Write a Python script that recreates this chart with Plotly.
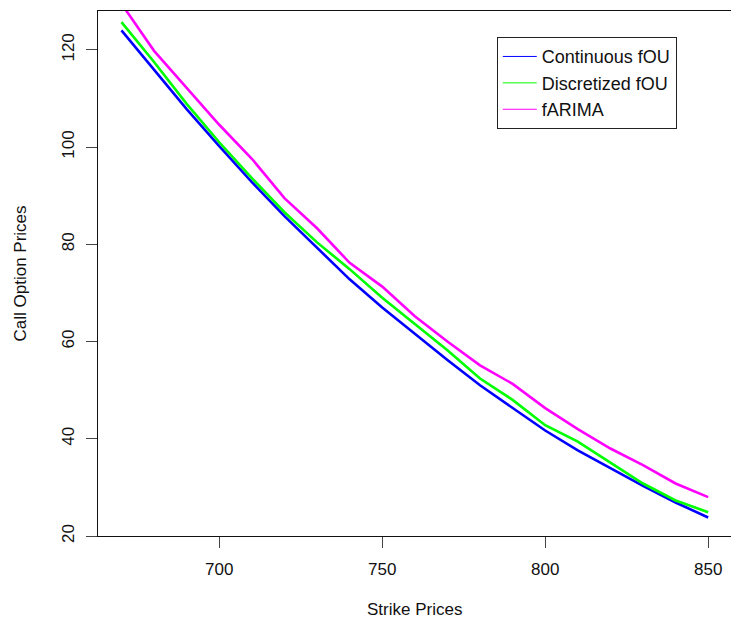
import plotly.graph_objects as go

strike = [670, 680, 690, 700, 710, 720, 730, 740, 750, 760,
          770, 780, 790, 800, 810, 820, 830, 840, 850]

continuous_fou = [124.0, 116.0, 107.8, 100.2, 92.8, 85.8, 79.2, 72.8, 67.0, 61.5,
                  56.2, 51.0, 46.3, 41.7, 37.6, 33.9, 30.3, 26.9, 23.8]
discretized_fou = [125.7, 117.5, 108.9, 101.0, 93.6, 86.6, 80.4, 74.9, 69.0, 63.6,
                   58.2, 52.4, 48.0, 42.8, 39.4, 35.1, 30.8, 27.3, 24.9]
farima = [129.5, 119.8, 112.2, 104.6, 97.6, 89.5, 83.3, 76.2, 71.3, 65.2,
          60.0, 55.1, 51.3, 46.3, 42.0, 38.0, 34.6, 30.8, 28.0]

series_names = ["Continuous fOU", "Discretized fOU", "fARIMA"]
series_colors = ["#0000FF", "#00FF00", "#FF00FF"]
x_ticks = [700, 750, 800, 850]
y_ticks = [20, 40, 60, 80, 100, 120]

FONT = "Liberation Sans, Arial, sans-serif"

fig = go.Figure()
for name, vals, col in zip(series_names, [continuous_fou, discretized_fou, farima], series_colors):
    fig.add_trace(go.Scatter(x=strike, y=vals, mode="lines", name=name,
                             line=dict(color=col, width=2.6), showlegend=False,
                             cliponaxis=True))
# thin legend samples, as in the original legend
for name, col in zip(series_names, series_colors):
    fig.add_trace(go.Scatter(x=[None], y=[None], mode="lines", name=name,
                             line=dict(color=col, width=1), showlegend=True))

fig.update_layout(
    width=731, height=624,
    margin=dict(l=98, r=0, t=11, b=88),
    paper_bgcolor="white", plot_bgcolor="white",
    font=dict(family=FONT, size=17, color="#111"),
    showlegend=True,
    legend=dict(x=0.630, y=0.950, xanchor="left", yanchor="top",
                bgcolor="white", bordercolor="#222", borderwidth=1,
                font=dict(family=FONT, size=18, color="#111"),
                itemwidth=34, tracegroupgap=0),
    xaxis=dict(range=[662.8, 857.0], tickvals=x_ticks, ticks="outside", ticklen=11,
               tickcolor="#444", tickwidth=1, showline=True, linecolor="#111",
               linewidth=1, mirror=True, showgrid=False, zeroline=False,
               ticklabelstandoff=7, tickfont=dict(size=17)),
    yaxis=dict(range=[20, 128], tickvals=y_ticks, ticks="outside", ticklen=11,
               tickcolor="#444", tickwidth=1, showline=True, linecolor="#111",
               linewidth=1, mirror=True, showgrid=False, zeroline=False,
               tickangle=-90, ticklabelstandoff=5, tickfont=dict(size=17)),
    annotations=[
        dict(text="Strike Prices", xref="paper", yref="paper", x=0.5, y=0,
             xanchor="center", yanchor="middle", yshift=-73, showarrow=False,
             font=dict(size=17)),
        dict(text="Call Option Prices", xref="paper", yref="paper", x=0, y=0.5,
             xanchor="center", yanchor="middle", xshift=-78, textangle=-90,
             showarrow=False, font=dict(size=17)),
    ],
)

fig.write_html("out.html", config={"displayModeBar": False},
               post_script="document.body.style.margin='0';")
